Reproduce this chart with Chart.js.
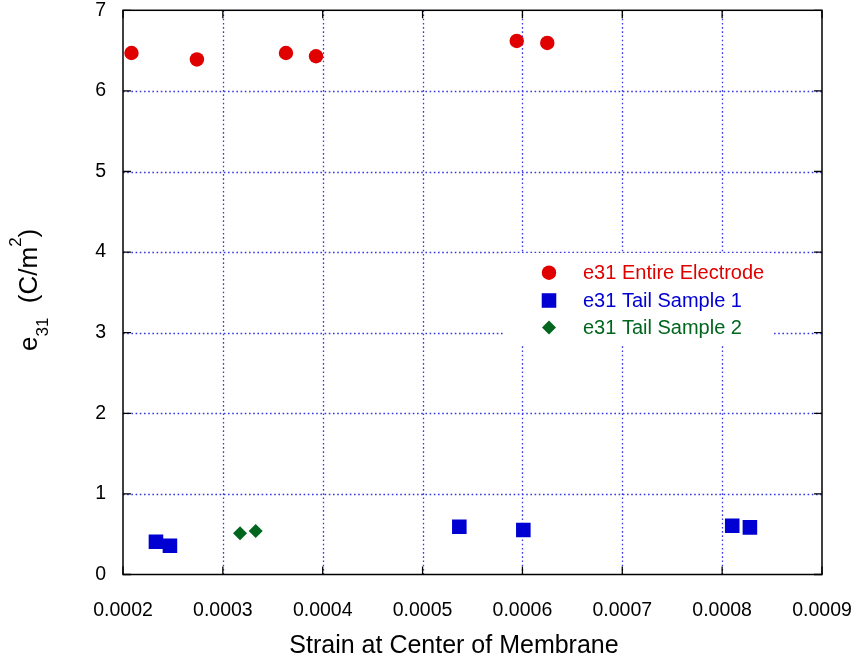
<!DOCTYPE html>
<html>
<head>
<meta charset="utf-8">
<script src="https://cdn.jsdelivr.net/npm/chart.js@4/dist/chart.umd.min.js"></script>
<style>
  html, body { margin: 0; padding: 0; background: #fff; }
  #wrap { width: 855px; height: 660px; }
</style>
</head>
<body>
<div id="wrap"><canvas id="c" width="855" height="660"></canvas></div>
<script>
// e31 piezoelectric coefficient versus strain at the membrane centre
const electrodeStrain = [0.0002085, 0.000274, 0.0003632, 0.0003933, 0.0005943, 0.0006249];
const electrodeE31    = [6.47, 6.39, 6.47, 6.43, 6.62, 6.595];

const tail1Strain = [0.000233, 0.000247, 0.0005368, 0.0006009, 0.0008101, 0.0008278];
const tail1E31    = [0.407, 0.357, 0.593, 0.552, 0.605, 0.585];

const tail2Strain = [0.0003172, 0.0003329];
const tail2E31    = [0.511, 0.539];

const seriesNames = ['e31 Entire Electrode', 'e31 Tail Sample 1', 'e31 Tail Sample 2'];

const xTicks = [0.0002, 0.0003, 0.0004, 0.0005, 0.0006, 0.0007, 0.0008, 0.0009];
const yTicks = [0, 1, 2, 3, 4, 5, 6, 7];

const RED = '#e00000', BLUE = '#0000d2', GREEN = '#00661e';
const FONT = '"Liberation Sans", Arial, sans-serif';

function pts(xs, ys) { return xs.map((x, i) => ({ x: x, y: ys[i] })); }

// grid, frame, inward ticks, legend box and axis titles
const decor = {
  id: 'decor',
  beforeDatasetsDraw(chart) {
    const { ctx, chartArea: a, scales: { x, y } } = chart;
    ctx.save();
    // dotted grid
    ctx.strokeStyle = 'rgba(45,45,230,0.95)';
    ctx.lineWidth = 1.3;
    ctx.setLineDash([1.6, 2.6]);
    ctx.beginPath();
    xTicks.slice(1, -1).forEach(v => {
      const px = Math.round(x.getPixelForValue(v)) + 0.5;
      ctx.moveTo(px, a.top); ctx.lineTo(px, a.bottom);
    });
    yTicks.slice(1, -1).forEach(v => {
      const py = Math.round(y.getPixelForValue(v)) + 0.5;
      ctx.moveTo(a.left, py); ctx.lineTo(a.right, py);
    });
    ctx.stroke();
    ctx.setLineDash([]);

    // legend background
    ctx.fillStyle = '#fff';
    ctx.fillRect(505, 253, 268, 93);

    // frame
    ctx.strokeStyle = '#000';
    ctx.lineWidth = 1.5;
    ctx.strokeRect(a.left, a.top, a.right - a.left, a.bottom - a.top);

    // inward tick marks on all four sides
    const tl = 8;
    ctx.lineWidth = 1.3;
    ctx.beginPath();
    xTicks.forEach(v => {
      const px = x.getPixelForValue(v);
      ctx.moveTo(px, a.bottom); ctx.lineTo(px, a.bottom - tl);
      ctx.moveTo(px, a.top); ctx.lineTo(px, a.top + tl);
    });
    yTicks.forEach(v => {
      const py = y.getPixelForValue(v);
      ctx.moveTo(a.left, py); ctx.lineTo(a.left + tl, py);
      ctx.moveTo(a.right, py); ctx.lineTo(a.right - tl, py);
    });
    ctx.stroke();

    // legend entries
    const ds = chart.data.datasets;
    const rows = [272.7, 300.5, 327.5];
    ds.forEach((d, i) => {
      const cx = 549, cy = rows[i];
      ctx.fillStyle = d.backgroundColor;
      ctx.beginPath();
      if (d.pointStyle === 'circle') {
        ctx.arc(cx, cy, d.pointRadius, 0, Math.PI * 2);
      } else if (d.pointStyle === 'rect') {
        const s = d.pointRadius * Math.SQRT1_2;
        ctx.rect(cx - s, cy - s, 2 * s, 2 * s);
      } else {
        const r = d.pointRadius;
        ctx.moveTo(cx - r, cy); ctx.lineTo(cx, cy - r);
        ctx.lineTo(cx + r, cy); ctx.lineTo(cx, cy + r);
        ctx.closePath();
      }
      ctx.fill();
      ctx.font = '20px ' + FONT;
      ctx.textAlign = 'left';
      ctx.textBaseline = 'middle';
      ctx.fillText(d.label, 583, cy + 1);
    });

    // x axis title
    ctx.fillStyle = '#000';
    ctx.font = '25px ' + FONT;
    ctx.textAlign = 'center';
    ctx.textBaseline = 'alphabetic';
    ctx.fillText('Strain at Center of Membrane', 454, 653);

    // y axis title with subscript and superscript
    ctx.translate(37, 351);
    ctx.rotate(-Math.PI / 2);
    ctx.textAlign = 'left';
    const parts = [
      ['e', 26, 0], ['31', 17, 11], ['  (C/m', 26, 0], ['2', 17, -16], [')', 26, 0]
    ];
    let cx = 0;
    parts.forEach(([t, size, dy]) => {
      ctx.font = size + 'px ' + FONT;
      ctx.fillText(t, cx, dy);
      cx += ctx.measureText(t).width;
    });
    ctx.restore();
  }
};

new Chart(document.getElementById('c'), {
  type: 'scatter',
  data: {
    datasets: [
      { label: seriesNames[0], data: pts(electrodeStrain, electrodeE31),
        pointStyle: 'circle', pointRadius: 7.2, backgroundColor: RED, borderColor: RED, borderWidth: 0 },
      { label: seriesNames[1], data: pts(tail1Strain, tail1E31),
        pointStyle: 'rect', pointRadius: 10.3, backgroundColor: BLUE, borderColor: BLUE, borderWidth: 0 },
      { label: seriesNames[2], data: pts(tail2Strain, tail2E31),
        pointStyle: 'rectRot', pointRadius: 7, backgroundColor: GREEN, borderColor: GREEN, borderWidth: 0 }
    ]
  },
  options: {
    responsive: false,
    animation: false,
    events: [],
    layout: { padding: { left: 0, top: 10, right: 33, bottom: 0 } },
    plugins: { legend: { display: false }, tooltip: { enabled: false } },
    scales: {
      x: {
        type: 'linear', min: xTicks[0], max: xTicks[xTicks.length - 1],
        afterFit(s) { s.height = 85.5; s.paddingLeft = 0; s.paddingRight = 0; },
        afterBuildTicks(s) { s.ticks = xTicks.map(v => ({ value: v })); },
        ticks: { padding: 24, color: '#000', font: { family: FONT, size: 19.5 },
                 callback: v => Number(v).toFixed(4), maxRotation: 0, autoSkip: false },
        grid: { display: false, drawTicks: false }, border: { display: false }
      },
      y: {
        type: 'linear', min: yTicks[0], max: yTicks[yTicks.length - 1],
        afterFit(s) { s.width = 123; s.paddingTop = 0; s.paddingBottom = 0; },
        afterBuildTicks(s) { s.ticks = yTicks.map(v => ({ value: v })); },
        ticks: { padding: 17, color: '#000', font: { family: FONT, size: 19.5 },
                 callback: v => String(v), autoSkip: false },
        grid: { display: false, drawTicks: false }, border: { display: false }
      }
    }
  },
  plugins: [decor]
});
</script>
</body>
</html>
